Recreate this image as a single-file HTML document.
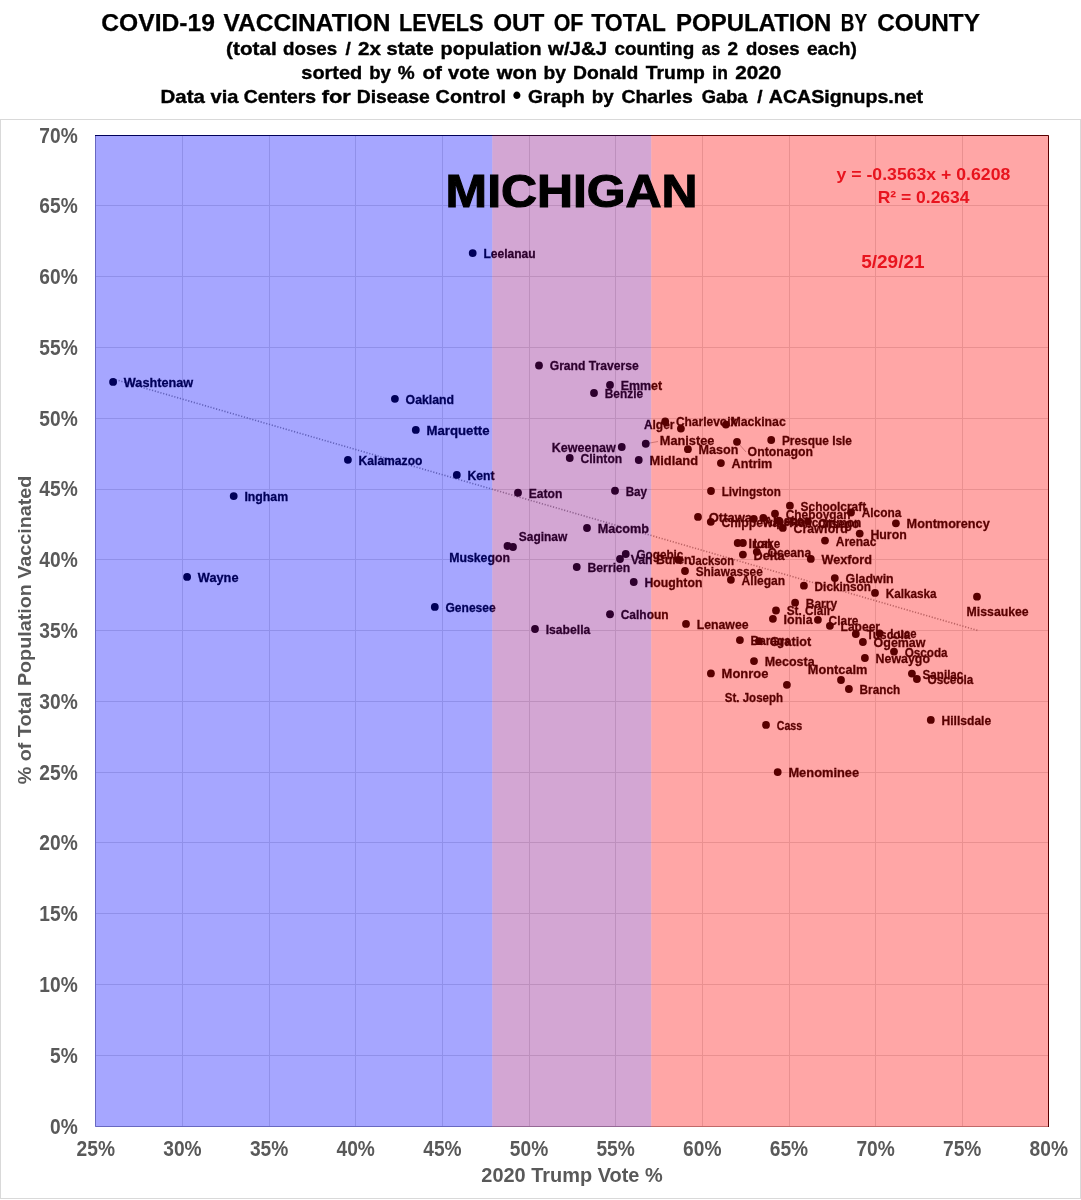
<!DOCTYPE html>
<html lang="en"><head><meta charset="utf-8"><title>COVID-19 Vaccination Levels by County - Michigan</title>
<style>
html,body{margin:0;padding:0;background:#fff;}
body{width:1081px;height:1200px;overflow:hidden;}
svg{display:block;}
text{font-family:"Liberation Sans",Arial,sans-serif;font-weight:bold;}
.t{fill:#000;text-anchor:middle;}
.tick{fill:#595959;}
.ax{fill:#595959;font-size:20.6px;text-anchor:middle;}
.lb{fill:#000;font-size:13.6px;}
.eq{fill:#e8141e;text-anchor:middle;}
</style></head><body>
<svg width="1081" height="1200" viewBox="0 0 1081 1200">
<rect x="0" y="0" width="1081" height="1200" fill="#fff"/>
<g font-size="23.0" fill="#000" stroke="#000" stroke-width="0.25">
<text x="101.3" y="30.8" textLength="113.6" lengthAdjust="spacingAndGlyphs">COVID-19</text>
<text x="223.5" y="30.8" textLength="166.9" lengthAdjust="spacingAndGlyphs">VACCINATION</text>
<text x="399.1" y="30.8" textLength="84.5" lengthAdjust="spacingAndGlyphs">LEVELS</text>
<text x="493.2" y="30.8" textLength="51.2" lengthAdjust="spacingAndGlyphs">OUT</text>
<text x="553.7" y="30.8" textLength="29.8" lengthAdjust="spacingAndGlyphs">OF</text>
<text x="591.2" y="30.8" textLength="74.7" lengthAdjust="spacingAndGlyphs">TOTAL</text>
<text x="676.0" y="30.8" textLength="155.4" lengthAdjust="spacingAndGlyphs">POPULATION</text>
<text x="840.8" y="30.8" textLength="26.3" lengthAdjust="spacingAndGlyphs">BY</text>
<text x="877.2" y="30.8" textLength="102.8" lengthAdjust="spacingAndGlyphs">COUNTY</text>
</g>
<g font-size="19.0" fill="#000" stroke="#000" stroke-width="0.4">
<text x="226.1" y="54.7" textLength="50.6" lengthAdjust="spacingAndGlyphs">(total</text>
<text x="283.0" y="54.7" textLength="54.2" lengthAdjust="spacingAndGlyphs">doses</text>
<text x="348.2" y="54.7" text-anchor="middle">/</text>
<text x="358.0" y="54.7" textLength="22.9" lengthAdjust="spacingAndGlyphs">2x</text>
<text x="386.6" y="54.7" textLength="47.0" lengthAdjust="spacingAndGlyphs">state</text>
<text x="440.6" y="54.7" textLength="100.9" lengthAdjust="spacingAndGlyphs">population</text>
<text x="548.0" y="54.7" textLength="59.1" lengthAdjust="spacingAndGlyphs">w/J&amp;J</text>
<text x="614.4" y="54.7" textLength="79.8" lengthAdjust="spacingAndGlyphs">counting</text>
<text x="701.7" y="54.7" textLength="18.4" lengthAdjust="spacingAndGlyphs">as</text>
<text x="732.8" y="54.7" text-anchor="middle">2</text>
<text x="745.9" y="54.7" textLength="53.6" lengthAdjust="spacingAndGlyphs">doses</text>
<text x="807.0" y="54.7" textLength="49.9" lengthAdjust="spacingAndGlyphs">each)</text>
</g>
<g font-size="19.0" fill="#000" stroke="#000" stroke-width="0.4">
<text x="301.3" y="78.5" textLength="60.9" lengthAdjust="spacingAndGlyphs">sorted</text>
<text x="369.2" y="78.5" textLength="21.7" lengthAdjust="spacingAndGlyphs">by</text>
<text x="406.1" y="78.5" text-anchor="middle">%</text>
<text x="422.4" y="78.5" textLength="19.4" lengthAdjust="spacingAndGlyphs">of</text>
<text x="448.1" y="78.5" textLength="41.6" lengthAdjust="spacingAndGlyphs">vote</text>
<text x="496.8" y="78.5" textLength="40.4" lengthAdjust="spacingAndGlyphs">won</text>
<text x="543.5" y="78.5" textLength="22.4" lengthAdjust="spacingAndGlyphs">by</text>
<text x="573.0" y="78.5" textLength="65.4" lengthAdjust="spacingAndGlyphs">Donald</text>
<text x="645.8" y="78.5" textLength="59.1" lengthAdjust="spacingAndGlyphs">Trump</text>
<text x="712.3" y="78.5" textLength="15.5" lengthAdjust="spacingAndGlyphs">in</text>
<text x="735.2" y="78.5" textLength="46.0" lengthAdjust="spacingAndGlyphs">2020</text>
</g>
<g font-size="19.0" fill="#000" stroke="#000" stroke-width="0.4">
<text x="160.6" y="102.8" textLength="44.2" lengthAdjust="spacingAndGlyphs">Data</text>
<text x="210.6" y="102.8" textLength="27.9" lengthAdjust="spacingAndGlyphs">via</text>
<text x="243.8" y="102.8" textLength="72.2" lengthAdjust="spacingAndGlyphs">Centers</text>
<text x="321.7" y="102.8" textLength="29.2" lengthAdjust="spacingAndGlyphs">for</text>
<text x="356.7" y="102.8" textLength="73.1" lengthAdjust="spacingAndGlyphs">Disease</text>
<text x="435.6" y="102.8" textLength="70.4" lengthAdjust="spacingAndGlyphs">Control</text>
<text x="516.8" y="104.39999999999999" text-anchor="middle" font-size="25" stroke="none">•</text>
<text x="528.0" y="102.8" textLength="56.7" lengthAdjust="spacingAndGlyphs">Graph</text>
<text x="591.7" y="102.8" textLength="21.9" lengthAdjust="spacingAndGlyphs">by</text>
<text x="621.4" y="102.8" textLength="71.3" lengthAdjust="spacingAndGlyphs">Charles</text>
<text x="701.7" y="102.8" textLength="45.9" lengthAdjust="spacingAndGlyphs">Gaba</text>
<text x="760.0" y="102.8" text-anchor="middle">/</text>
<text x="768.8" y="102.8" textLength="154.3" lengthAdjust="spacingAndGlyphs">ACASignups.net</text>
</g>
<rect x="0.5" y="119.5" width="1080" height="1079" fill="#fff" stroke="#d9d9d9" stroke-width="1"/>
<g stroke="#dedede" stroke-width="1">
<line x1="182.5" y1="135" x2="182.5" y2="1127"/>
<line x1="269.5" y1="135" x2="269.5" y2="1127"/>
<line x1="355.5" y1="135" x2="355.5" y2="1127"/>
<line x1="442.5" y1="135" x2="442.5" y2="1127"/>
<line x1="529.5" y1="135" x2="529.5" y2="1127"/>
<line x1="615.5" y1="135" x2="615.5" y2="1127"/>
<line x1="702.5" y1="135" x2="702.5" y2="1127"/>
<line x1="789.5" y1="135" x2="789.5" y2="1127"/>
<line x1="875.5" y1="135" x2="875.5" y2="1127"/>
<line x1="962.5" y1="135" x2="962.5" y2="1127"/>
<line x1="95" y1="205.5" x2="1049" y2="205.5"/>
<line x1="95" y1="276.5" x2="1049" y2="276.5"/>
<line x1="95" y1="347.5" x2="1049" y2="347.5"/>
<line x1="95" y1="418.5" x2="1049" y2="418.5"/>
<line x1="95" y1="489.5" x2="1049" y2="489.5"/>
<line x1="95" y1="559.5" x2="1049" y2="559.5"/>
<line x1="95" y1="630.5" x2="1049" y2="630.5"/>
<line x1="95" y1="701.5" x2="1049" y2="701.5"/>
<line x1="95" y1="772.5" x2="1049" y2="772.5"/>
<line x1="95" y1="842.5" x2="1049" y2="842.5"/>
<line x1="95" y1="913.5" x2="1049" y2="913.5"/>
<line x1="95" y1="984.5" x2="1049" y2="984.5"/>
<line x1="95" y1="1055.5" x2="1049" y2="1055.5"/>
</g>
<line x1="113" y1="378.9" x2="977.5" y2="630.4" stroke="#969696" stroke-width="1.6" stroke-dasharray="1.2 1.7"/>
<g stroke="#a0a0a0" stroke-width="0.8"><line x1="645.75" y1="443.75" x2="658" y2="441.5"/><line x1="737" y1="441.8" x2="746" y2="452"/></g>
<g fill="#000">
<circle cx="113.1" cy="381.9" r="3.9"/>
<circle cx="472.7" cy="253.1" r="3.9"/>
<circle cx="394.9" cy="398.8" r="3.9"/>
<circle cx="415.8" cy="429.9" r="3.9"/>
<circle cx="347.9" cy="459.8" r="3.9"/>
<circle cx="456.8" cy="474.9" r="3.9"/>
<circle cx="233.7" cy="496.1" r="3.9"/>
<circle cx="187.1" cy="576.9" r="3.9"/>
<circle cx="434.8" cy="606.9" r="3.9"/>
<circle cx="539" cy="365.5" r="3.9"/>
<circle cx="610" cy="385" r="3.9"/>
<circle cx="594" cy="393" r="3.9"/>
<circle cx="665.2" cy="421.5" r="3.9"/>
<circle cx="680.9" cy="428.6" r="3.9"/>
<circle cx="725.9" cy="424.6" r="3.9"/>
<circle cx="621.75" cy="447" r="3.9"/>
<circle cx="645.75" cy="443.75" r="3.9"/>
<circle cx="569.75" cy="458" r="3.9"/>
<circle cx="638.75" cy="460" r="3.9"/>
<circle cx="687.9" cy="449.2" r="3.9"/>
<circle cx="737" cy="441.8" r="3.9"/>
<circle cx="771.2" cy="440" r="3.9"/>
<circle cx="720.9" cy="463.1" r="3.9"/>
<circle cx="518" cy="492.75" r="3.9"/>
<circle cx="615" cy="490.75" r="3.9"/>
<circle cx="711" cy="491" r="3.9"/>
<circle cx="587" cy="528" r="3.9"/>
<circle cx="513" cy="547" r="3.9"/>
<circle cx="507.5" cy="546" r="3.9"/>
<circle cx="625.75" cy="554" r="3.9"/>
<circle cx="620" cy="559" r="3.9"/>
<circle cx="576.75" cy="567" r="3.9"/>
<circle cx="633.75" cy="582" r="3.9"/>
<circle cx="610" cy="614.25" r="3.9"/>
<circle cx="535" cy="629" r="3.9"/>
<circle cx="686" cy="623.9" r="3.9"/>
<circle cx="685" cy="571" r="3.9"/>
<circle cx="678.6" cy="559.9" r="3.9"/>
<circle cx="698" cy="516.9" r="3.9"/>
<circle cx="710.8" cy="521.8" r="3.9"/>
<circle cx="753.8" cy="518.8" r="3.9"/>
<circle cx="763.3" cy="518" r="3.9"/>
<circle cx="775" cy="513.7" r="3.9"/>
<circle cx="778.9" cy="520.7" r="3.9"/>
<circle cx="782.8" cy="527.9" r="3.9"/>
<circle cx="789.9" cy="505.7" r="3.9"/>
<circle cx="808" cy="521.5" r="3.9"/>
<circle cx="851" cy="512.5" r="3.9"/>
<circle cx="859.7" cy="533.6" r="3.9"/>
<circle cx="825" cy="540.6" r="3.9"/>
<circle cx="895.9" cy="523.3" r="3.9"/>
<circle cx="737.7" cy="543" r="3.9"/>
<circle cx="742.9" cy="543" r="3.9"/>
<circle cx="742.9" cy="554.6" r="3.9"/>
<circle cx="756.8" cy="551.8" r="3.9"/>
<circle cx="810.8" cy="558.9" r="3.9"/>
<circle cx="730.9" cy="579.8" r="3.9"/>
<circle cx="803.9" cy="585.7" r="3.9"/>
<circle cx="834.8" cy="578.1" r="3.9"/>
<circle cx="875" cy="592.9" r="3.9"/>
<circle cx="977" cy="596.7" r="3.9"/>
<circle cx="795.1" cy="602.7" r="3.9"/>
<circle cx="776" cy="610.5" r="3.9"/>
<circle cx="772.9" cy="618.8" r="3.9"/>
<circle cx="817.9" cy="619.8" r="3.9"/>
<circle cx="829.9" cy="625.8" r="3.9"/>
<circle cx="855.8" cy="634" r="3.9"/>
<circle cx="879.6" cy="633.5" r="3.9"/>
<circle cx="862.9" cy="642" r="3.9"/>
<circle cx="894" cy="651.6" r="3.9"/>
<circle cx="864.9" cy="658" r="3.9"/>
<circle cx="739.9" cy="640.1" r="3.9"/>
<circle cx="759" cy="641.2" r="3.9"/>
<circle cx="754" cy="661.1" r="3.9"/>
<circle cx="710.9" cy="673.4" r="3.9"/>
<circle cx="841" cy="680" r="3.9"/>
<circle cx="848.9" cy="689" r="3.9"/>
<circle cx="911.9" cy="673.6" r="3.9"/>
<circle cx="916.9" cy="679" r="3.9"/>
<circle cx="930.8" cy="719.9" r="3.9"/>
<circle cx="786.9" cy="684.8" r="3.9"/>
<circle cx="766" cy="724.9" r="3.9"/>
<circle cx="777.7" cy="772.1" r="3.9"/>
</g>
<g class="lb" stroke="#000" stroke-width="0.3" lengthAdjust="spacingAndGlyphs">
<text x="123.8" y="386.8" textLength="69.4" lengthAdjust="spacingAndGlyphs">Washtenaw</text>
<text x="483.4" y="258.0" textLength="52.3" lengthAdjust="spacingAndGlyphs">Leelanau</text>
<text x="405.6" y="403.7" textLength="48.5" lengthAdjust="spacingAndGlyphs">Oakland</text>
<text x="426.5" y="434.8" textLength="63.0" lengthAdjust="spacingAndGlyphs">Marquette</text>
<text x="358.6" y="464.7" textLength="63.8" lengthAdjust="spacingAndGlyphs">Kalamazoo</text>
<text x="467.5" y="479.8" textLength="27.1" lengthAdjust="spacingAndGlyphs">Kent</text>
<text x="244.4" y="501.0" textLength="43.7" lengthAdjust="spacingAndGlyphs">Ingham</text>
<text x="197.8" y="581.8" textLength="40.7" lengthAdjust="spacingAndGlyphs">Wayne</text>
<text x="445.5" y="611.8" textLength="50.2" lengthAdjust="spacingAndGlyphs">Genesee</text>
<text x="549.7" y="370.4" textLength="89.1" lengthAdjust="spacingAndGlyphs">Grand Traverse</text>
<text x="620.7" y="389.9" textLength="41.5" lengthAdjust="spacingAndGlyphs">Emmet</text>
<text x="604.7" y="397.9" textLength="38.4" lengthAdjust="spacingAndGlyphs">Benzie</text>
<text x="675.9" y="426.4" textLength="61.3" lengthAdjust="spacingAndGlyphs">Charlevoix</text>
<text x="643.9" y="428.9" textLength="30.6" lengthAdjust="spacingAndGlyphs">Alger</text>
<text x="730.4" y="426.1" textLength="55.4" lengthAdjust="spacingAndGlyphs">Mackinac</text>
<text x="551.7" y="451.5" textLength="64.1" lengthAdjust="spacingAndGlyphs">Keweenaw</text>
<text x="659.8" y="445.1" textLength="54.6" lengthAdjust="spacingAndGlyphs">Manistee</text>
<text x="580.5" y="462.9" textLength="41.7" lengthAdjust="spacingAndGlyphs">Clinton</text>
<text x="649.5" y="464.9" textLength="48.6" lengthAdjust="spacingAndGlyphs">Midland</text>
<text x="698.6" y="454.1" textLength="39.8" lengthAdjust="spacingAndGlyphs">Mason</text>
<text x="747.6" y="456.3" textLength="65.5" lengthAdjust="spacingAndGlyphs">Ontonagon</text>
<text x="781.9" y="444.9" textLength="70.1" lengthAdjust="spacingAndGlyphs">Presque Isle</text>
<text x="731.6" y="468.0" textLength="40.7" lengthAdjust="spacingAndGlyphs">Antrim</text>
<text x="528.7" y="497.6" textLength="33.7" lengthAdjust="spacingAndGlyphs">Eaton</text>
<text x="625.7" y="495.6" textLength="21.4" lengthAdjust="spacingAndGlyphs">Bay</text>
<text x="721.7" y="495.9" textLength="59.1" lengthAdjust="spacingAndGlyphs">Livingston</text>
<text x="597.7" y="532.9" textLength="51.4" lengthAdjust="spacingAndGlyphs">Macomb</text>
<text x="518.8" y="540.6" textLength="48.5" lengthAdjust="spacingAndGlyphs">Saginaw</text>
<text x="449.2" y="562.4" textLength="60.8" lengthAdjust="spacingAndGlyphs">Muskegon</text>
<text x="636.5" y="558.9" textLength="46.9" lengthAdjust="spacingAndGlyphs">Gogebic</text>
<text x="630.7" y="563.9" textLength="60.8" lengthAdjust="spacingAndGlyphs">Van Buren</text>
<text x="587.5" y="571.9" textLength="42.8" lengthAdjust="spacingAndGlyphs">Berrien</text>
<text x="644.5" y="586.9" textLength="57.9" lengthAdjust="spacingAndGlyphs">Houghton</text>
<text x="620.7" y="619.1" textLength="47.9" lengthAdjust="spacingAndGlyphs">Calhoun</text>
<text x="545.7" y="633.9" textLength="44.6" lengthAdjust="spacingAndGlyphs">Isabella</text>
<text x="696.7" y="628.8" textLength="51.9" lengthAdjust="spacingAndGlyphs">Lenawee</text>
<text x="695.7" y="575.9" textLength="67.1" lengthAdjust="spacingAndGlyphs">Shiawassee</text>
<text x="689.3" y="564.8" textLength="44.7" lengthAdjust="spacingAndGlyphs">Jackson</text>
<text x="708.7" y="521.8" textLength="43.4" lengthAdjust="spacingAndGlyphs">Ottawa</text>
<text x="721.5" y="526.7" textLength="57.8" lengthAdjust="spacingAndGlyphs">Chippewa</text>
<text x="764.1" y="525.7" textLength="40.9" lengthAdjust="spacingAndGlyphs">Alpena</text>
<text x="773.6" y="525.2" textLength="30.2" lengthAdjust="spacingAndGlyphs">Iosco</text>
<text x="785.7" y="518.6" textLength="64.7" lengthAdjust="spacingAndGlyphs">Cheboygan</text>
<text x="789.2" y="527.4" textLength="72.2" lengthAdjust="spacingAndGlyphs">Roscommon</text>
<text x="793.5" y="532.8" textLength="54.2" lengthAdjust="spacingAndGlyphs">Crawford</text>
<text x="800.6" y="510.6" textLength="65.5" lengthAdjust="spacingAndGlyphs">Schoolcraft</text>
<text x="818.3" y="527.7" textLength="41.1" lengthAdjust="spacingAndGlyphs">Otsego</text>
<text x="861.7" y="517.4" textLength="39.7" lengthAdjust="spacingAndGlyphs">Alcona</text>
<text x="870.4" y="538.5" textLength="36.4" lengthAdjust="spacingAndGlyphs">Huron</text>
<text x="835.7" y="545.5" textLength="40.8" lengthAdjust="spacingAndGlyphs">Arenac</text>
<text x="906.6" y="528.2" textLength="83.1" lengthAdjust="spacingAndGlyphs">Montmorency</text>
<text x="748.4" y="547.9" textLength="23.8" lengthAdjust="spacingAndGlyphs">Iron</text>
<text x="753.6" y="547.9" textLength="26.6" lengthAdjust="spacingAndGlyphs">Lake</text>
<text x="753.6" y="559.5" textLength="31.1" lengthAdjust="spacingAndGlyphs">Delta</text>
<text x="767.5" y="556.7" textLength="43.7" lengthAdjust="spacingAndGlyphs">Oceana</text>
<text x="821.5" y="563.8" textLength="50.5" lengthAdjust="spacingAndGlyphs">Wexford</text>
<text x="741.6" y="584.7" textLength="43.5" lengthAdjust="spacingAndGlyphs">Allegan</text>
<text x="814.6" y="590.6" textLength="56.4" lengthAdjust="spacingAndGlyphs">Dickinson</text>
<text x="845.5" y="583.0" textLength="48.2" lengthAdjust="spacingAndGlyphs">Gladwin</text>
<text x="885.7" y="597.8" textLength="50.8" lengthAdjust="spacingAndGlyphs">Kalkaska</text>
<text x="966.6" y="616.1" textLength="62.1" lengthAdjust="spacingAndGlyphs">Missaukee</text>
<text x="805.8" y="607.6" textLength="31.3" lengthAdjust="spacingAndGlyphs">Barry</text>
<text x="786.7" y="615.4" textLength="44.6" lengthAdjust="spacingAndGlyphs">St. Clair</text>
<text x="783.6" y="623.7" textLength="29.1" lengthAdjust="spacingAndGlyphs">Ionia</text>
<text x="828.6" y="624.7" textLength="29.8" lengthAdjust="spacingAndGlyphs">Clare</text>
<text x="840.6" y="630.7" textLength="39.4" lengthAdjust="spacingAndGlyphs">Lapeer</text>
<text x="866.5" y="638.9" textLength="43.8" lengthAdjust="spacingAndGlyphs">Tuscola</text>
<text x="890.3" y="638.4" textLength="26.3" lengthAdjust="spacingAndGlyphs">Luce</text>
<text x="873.6" y="646.9" textLength="51.9" lengthAdjust="spacingAndGlyphs">Ogemaw</text>
<text x="904.7" y="656.5" textLength="42.9" lengthAdjust="spacingAndGlyphs">Oscoda</text>
<text x="875.6" y="662.9" textLength="54.4" lengthAdjust="spacingAndGlyphs">Newaygo</text>
<text x="750.6" y="645.0" textLength="40.2" lengthAdjust="spacingAndGlyphs">Baraga</text>
<text x="769.7" y="646.1" textLength="41.5" lengthAdjust="spacingAndGlyphs">Gratiot</text>
<text x="764.7" y="666.0" textLength="50.0" lengthAdjust="spacingAndGlyphs">Mecosta</text>
<text x="721.6" y="678.3" textLength="46.8" lengthAdjust="spacingAndGlyphs">Monroe</text>
<text x="807.8" y="673.9" textLength="59.7" lengthAdjust="spacingAndGlyphs">Montcalm</text>
<text x="859.6" y="693.9" textLength="40.6" lengthAdjust="spacingAndGlyphs">Branch</text>
<text x="922.6" y="678.5" textLength="40.7" lengthAdjust="spacingAndGlyphs">Sanilac</text>
<text x="927.6" y="683.9" textLength="45.8" lengthAdjust="spacingAndGlyphs">Osceola</text>
<text x="941.5" y="724.8" textLength="49.7" lengthAdjust="spacingAndGlyphs">Hillsdale</text>
<text x="724.8" y="701.5" textLength="58.2" lengthAdjust="spacingAndGlyphs">St. Joseph</text>
<text x="776.7" y="729.8" textLength="25.5" lengthAdjust="spacingAndGlyphs">Cass</text>
<text x="788.4" y="777.0" textLength="70.8" lengthAdjust="spacingAndGlyphs">Menominee</text>
</g>
<path d="M95.5 135 V1126.5 H1049" fill="none" stroke="#a0a0a0" stroke-width="1"/>
<path d="M95 135.5 H1048.5 V1127" fill="none" stroke="#000" stroke-width="1"/>
<rect x="95" y="135" width="397.3" height="992" fill="#0000ff" fill-opacity="0.35"/>
<rect x="492.3" y="135" width="158.95" height="992" fill="#800080" fill-opacity="0.35"/>
<rect x="651.25" y="135" width="397.75" height="992" fill="#ff0000" fill-opacity="0.35"/>
<g class="tick" text-anchor="end" font-size="21.2">
<text transform="translate(77.7,142.5) scale(0.905,1)">70%</text>
<text transform="translate(77.7,213.2) scale(0.905,1)">65%</text>
<text transform="translate(77.7,284.0) scale(0.905,1)">60%</text>
<text transform="translate(77.7,354.8) scale(0.905,1)">55%</text>
<text transform="translate(77.7,425.6) scale(0.905,1)">50%</text>
<text transform="translate(77.7,496.4) scale(0.905,1)">45%</text>
<text transform="translate(77.7,567.2) scale(0.905,1)">40%</text>
<text transform="translate(77.7,638.0) scale(0.905,1)">35%</text>
<text transform="translate(77.7,708.8) scale(0.905,1)">30%</text>
<text transform="translate(77.7,779.6) scale(0.905,1)">25%</text>
<text transform="translate(77.7,850.4) scale(0.905,1)">20%</text>
<text transform="translate(77.7,921.1) scale(0.905,1)">15%</text>
<text transform="translate(77.7,991.9) scale(0.905,1)">10%</text>
<text transform="translate(77.7,1062.7) scale(0.905,1)">5%</text>
<text transform="translate(77.7,1133.5) scale(0.905,1)">0%</text>
</g>
<g class="tick" text-anchor="middle" font-size="21.2">
<text transform="translate(95.8,1156.0) scale(0.905,1)">25%</text>
<text transform="translate(182.4,1156.0) scale(0.905,1)">30%</text>
<text transform="translate(269.1,1156.0) scale(0.905,1)">35%</text>
<text transform="translate(355.7,1156.0) scale(0.905,1)">40%</text>
<text transform="translate(442.4,1156.0) scale(0.905,1)">45%</text>
<text transform="translate(529.0,1156.0) scale(0.905,1)">50%</text>
<text transform="translate(615.6,1156.0) scale(0.905,1)">55%</text>
<text transform="translate(702.3,1156.0) scale(0.905,1)">60%</text>
<text transform="translate(788.9,1156.0) scale(0.905,1)">65%</text>
<text transform="translate(875.6,1156.0) scale(0.905,1)">70%</text>
<text transform="translate(962.2,1156.0) scale(0.905,1)">75%</text>
<text transform="translate(1048.8,1156.0) scale(0.905,1)">80%</text>
</g>
<text class="ax" transform="translate(572,1181.8) scale(0.968,1)">2020 Trump Vote %</text>
<text class="ax" transform="translate(31.4,630) rotate(-90) scale(0.958,0.90)">% of Total Population Vaccinated</text>
<text class="t" stroke="#000" stroke-width="1.1" font-size="45.6" transform="translate(571.6,207.0) scale(1.0932,1)">MICHIGAN</text>
<text class="eq" font-size="16.6" transform="translate(923.4,179.9) scale(1.0645,1)">y = -0.3563x + 0.6208</text>
<text class="eq" font-size="16.6" transform="translate(923.6,203.0) scale(1.0539,1)">R² = 0.2634</text>
<text class="eq" font-size="19px" x="892.9" y="267.7">5/29/21</text>
</svg>
</body></html>
